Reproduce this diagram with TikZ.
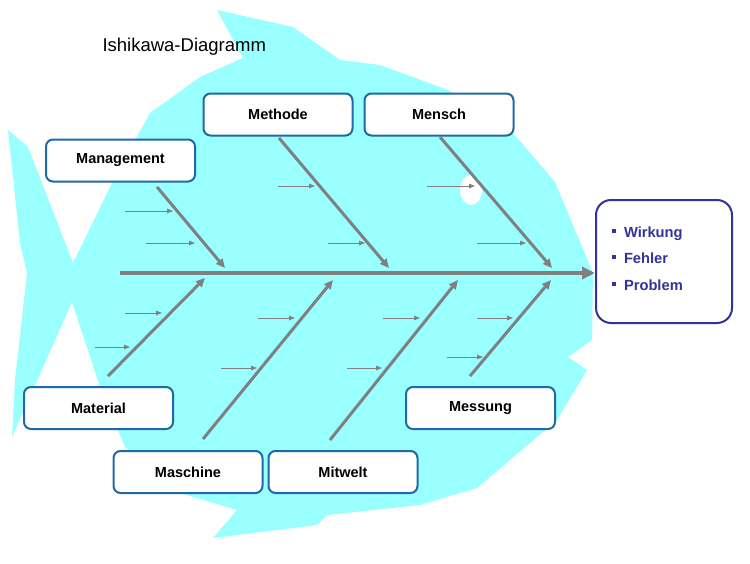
\documentclass[tikz,border=0pt]{standalone}
\usepackage{fontspec}
\setmainfont{Liberation Sans}
\usetikzlibrary{arrows.meta}
\definecolor{fishbody}{RGB}{153,255,255}
\definecolor{boxline}{RGB}{31,105,165}
\definecolor{effectblue}{RGB}{51,51,153}
\definecolor{bonegray}{RGB}{128,128,128}
\tikzset{
  cause/.style={draw=boxline, line width=2pt, rounded corners=7pt, fill=white,
    minimum width=149pt, minimum height=42pt, inner sep=0pt,
    font=\fontsize{14.5}{17}\selectfont\bfseries},
  effect/.style={draw=effectblue, line width=2pt, rounded corners=15pt, fill=white,
    minimum width=136pt, minimum height=123pt, inner xsep=16pt, text width=104pt,
    align=left, text=effectblue, font=\fontsize{14.7}{26.5}\selectfont\bfseries},
  spine/.style={draw=bonegray, line width=4pt, -{Triangle[length=13pt,width=12pt]}},
  bone/.style={draw=bonegray, line width=3pt, -{Triangle[length=9pt,width=8pt]}},
  subbone/.style={draw=bonegray, line width=1pt, -{Triangle[length=6pt,width=4.5pt]}},
}
\newcommand{\fishbullet}{\rule[4.5pt]{4pt}{4pt}\hspace{8pt}}
\begin{document}
\begin{tikzpicture}[x=1pt,y=-1pt]
  \useasboundingbox (0,0) rectangle (750,563);
  % Fish body
  \fill[fishbody] (217,10) -- (293,27) -- (340,60) -- (380,65) -- (448,90)
    -- (513,133) -- (555,182) -- (575,230) -- (593,273) -- (592,340)
    -- (568,357) -- (587,370) -- (557,420) -- (537,437) -- (477,488)
    -- (420,505) -- (327,515) -- (317,525) -- (213,538) -- (237,510)
    -- (180,493) -- (125,447) -- (100,387) -- (72,302) -- (12,437)
    -- (15,380) -- (27,273) -- (20,243) -- (8,130) -- (28,147)
    -- (73,263) -- (112,183) -- (135,140) -- (150,113) -- (200,77)
    -- (243,58) -- cycle;
  % Eye
  \fill[white] (471,190) ellipse (11 and 15);
  % Title
  \node[anchor=base west, font=\fontsize{18.5}{22}\selectfont] (title) at (99,51) {Ishikawa-Diagramm};
  % Cause boxes
  \node[cause] (management) at (120.5,160.5) {Management};
  \node[cause] (methode) at (278,114.5) {Methode};
  \node[cause] (mensch) at (439,114.5) {Mensch};
  \node[cause] (material) at (98.5,408) {Material};
  \node[cause] (maschine) at (188,472) {Maschine};
  \node[cause] (mitwelt) at (343,472) {Mitwelt};
  \node[cause] (messung) at (480.5,408) {Messung};
  % Effect box
  \node[effect] (effect) at (664,261.5) {\fishbullet Wirkung\\ \fishbullet Fehler\\ \fishbullet Problem\rule[-6pt]{0pt}{0pt}};
  % Spine
  \coordinate (tail) at (120,273);
  \draw[spine] (tail) -- (tail -| effect.west);
  % Bones
  \coordinate (mg-s) at (157,187); \coordinate (mg-e) at (225,268);
  \coordinate (me-s) at (279,138); \coordinate (me-e) at (389,268);
  \coordinate (mn-s) at (440,137); \coordinate (mn-e) at (552,268);
  \coordinate (ma-s) at (108,376); \coordinate (ma-e) at (205,278);
  \coordinate (mc-s) at (203,439); \coordinate (mc-e) at (333,280);
  \coordinate (mw-s) at (330,440); \coordinate (mw-e) at (458,280);
  \coordinate (ms-s) at (470,376); \coordinate (ms-e) at (551,280);
  \foreach \b in {mg,me,mn,ma,mc,mw,ms}
    \draw[bone] (\b-s) -- (\b-e);
  % Sub-causes
  \foreach \x/\y/\l in {125/211/48, 146/243/49, 278/186/37, 328/243/37,
      427/186/48, 477/243/49, 125/313/37, 95/347/35, 258/318/37, 221/368/36,
      383/318/37, 347/368/35, 477/318/36, 447/357/36}
    \draw[subbone] (\x,\y) -- ++(\l,0);
\end{tikzpicture}
\end{document}
